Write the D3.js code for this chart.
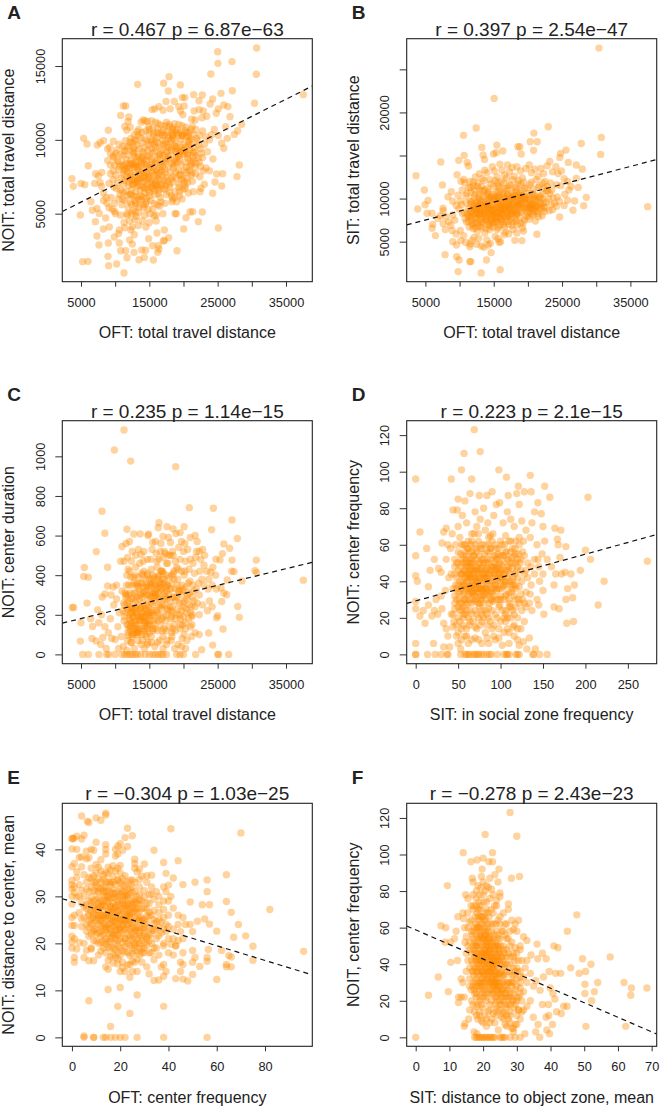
<!DOCTYPE html>
<html><head><meta charset="utf-8">
<script src="https://cdnjs.cloudflare.com/ajax/libs/d3/7.8.5/d3.min.js"></script>
<style>html,body{margin:0;padding:0;background:#fff}svg{display:block}text{font-family:"Liberation Sans",Arial,sans-serif;fill:#222}</style>
</head><body><div id="c"></div>
<script>
const pointsA=[30700,16220,25000,15970,25050,15180,27100,15300,30660,14440,24000,14460,17880,14280,13290,13760,17100,13830,19540,13720,27150,13330,17780,13310,25490,13150,21490,13060,22750,13040,37540,13060,30400,12480,19830,12860,20200,12860,22270,12650,24270,12770,23900,12430,25900,12360,25100,12100,24800,11800,26500,12250,27930,10620,28510,11050,27440,10370,26800,11570,26170,10890,26410,10100,25900,9430,25590,9770,25100,10300,24500,10700,
3680,7370,3880,6850,5000,7050,5540,6960,5390,10100,5880,9720,6070,8250,4900,4910,6460,5810,6660,5230,7340,5360,7680,5020,7100,4460,8610,4710,8270,3960,9150,4100,7340,3490,7630,2880,9000,3010,9880,3420,10500,3650,10610,3900,5240,1750,6020,1770,9050,1480,8950,2110,10220,1590,11290,980,11730,2020,10800,2490,11540,2490,12760,2380,13490,1880,14270,2040,15590,1860,13880,2540,14460,2520,16220,2380,19050,2490,15490,2830,16320,2830,16400,2600,12510,2940,12120,3220,12800,3580,10610,3010,14900,3300,16120,3690,17200,3890,17200,3190,17050,3150,17830,3370,20020,3960,25100,4030,22170,4460,22760,5110,20950,5110,21340,5130,18760,5000,18950,5000,20370,4730,
28170,8300,27830,7510,25730,7710,24850,7690,25590,6870,24610,7150,24270,6380,23050,7000,22560,6720,22420,6490,21440,6490,7400,9650,7800,9800,8300,9950,8900,9400,9200,9500,9000,10650,9750,9900,7150,7700,7550,7550,8050,7800,7000,7050,7800,7100,8000,6850,8300,6400,8700,6100,8300,5900,8800,5700,9100,5400,9600,5300,9900,5150,10050,5000,
11200,12300,11550,12300,10800,11650,12000,11550,11900,11250,15400,12050,15800,12100,16400,12250,17000,12000,17450,12600,18050,12100,18650,12600,19300,12250,19550,11950,19900,11700,20100,12300,21550,11950,22300,12050,22900,11950,23400,11600,22700,11500,21700,11350,21200,11400,
11400,10900,11700,10650,12200,10850,12800,10350,13200,10550,13800,11200,14100,11350,14350,11300,14700,11250,15000,10700,15600,10450,16200,10750,16700,11000,17300,10950,17900,11050,18400,10800,18800,10650,19300,11050,19800,10950,20300,10850,20800,10500,21300,10900,21800,10700,22400,10300,22800,10600,23300,10200,23800,10000,24100,10350,
9300,9050,9700,8900,10200,9300,10600,9700,11100,9550,11500,9950,12100,9600,12500,9800,13000,9900,13500,9400,14000,9800,14400,10050,14900,9650,15300,10000,15700,9700,16100,10150,16500,9500,16900,10300,17300,9800,17700,10300,18100,9900,18500,10300,18900,9800,19200,10300,19600,10000,20000,9700,20400,10200,20700,9600,21100,10050,21500,9500,22000,9900,22500,9400,23100,9700,23500,9200,
8900,8600,9300,8300,9800,8800,10300,8600,10700,8200,11100,8900,11500,8400,11900,9000,12300,8600,12700,9100,13000,8300,13400,8900,13800,8500,14200,9100,14600,8300,15000,8900,15400,8500,15800,9200,16200,8700,16600,9000,17000,8500,17400,9200,17800,8700,18200,9300,18600,8600,19000,9100,19400,8700,19800,9300,20200,8500,20600,9000,21000,8600,21400,8800,21800,8400,22300,8500,22800,8800,23300,8100,23800,7900,24300,8700,
9700,7900,10100,7600,10500,8000,10900,7400,11300,7900,11700,7500,12100,8100,12400,7300,12800,7800,13100,8200,13500,7400,13900,7900,14300,7200,14600,7800,15000,8100,15300,7300,15700,7900,16100,7400,16500,8100,16900,7600,17300,8000,17700,7200,18100,7800,18500,8100,18900,7400,19300,7900,19700,7300,20100,7900,20500,7400,20900,7900,21300,7200,21800,7700,22400,7500,22900,7900,
9100,7050,9800,6800,10400,7100,10800,6600,11200,7000,11600,6500,12000,6900,12300,6300,12600,7000,13000,6500,13300,6900,13700,6200,14000,6800,14300,6400,14700,7000,15000,6200,15400,6700,15800,6300,16200,6900,16600,6100,17000,6700,17500,6300,18000,6800,18400,6000,18800,6500,19300,6800,19800,6000,20200,6900,20700,6400,
9400,6100,9900,5700,10500,6000,11000,5600,11400,5900,11900,5400,12200,5800,12600,5200,13000,5700,13400,5100,13800,5900,14200,5400,14600,5800,15100,5000,15500,5300,16000,4900,16500,5500,17000,5000,18300,5800,19000,5800,
10800,4900,11300,4400,11700,5000,12100,4500,12500,4100,12900,4600,13400,4200,14000,4500,14500,4100,15000,4400,11400,4050,12300,3900,16000,4500,
12600,7000,13200,7100,13600,6900,14100,7200,14500,6800,13100,8500,13500,8200,14000,8800,14500,8600,15200,8300,17800,9500,18200,10000,18700,9600,19100,9400,19600,9500,20100,9000,16900,8200,17400,8700,16000,7000,16400,6600,12900,5900,12200,6300,13500,6000,14300,6700,15000,7500,15500,7000,12800,9300,17200,10300,18400,10300,20500,10500];
const coreA=[12100,8250,14800,9300,17650,10550,12450,6650,19250,8900,15150,7150,13250,9650,18150,7350,16250,9800,11350,7250,20350,9500,14050,6150,17050,8950,12850,8850,15650,10300,19550,7650,13550,7650,21150,8350,16750,6950,11650,8650,18350,10700,14350,9500,20750,9850,12250,7550,15950,8550,17950,6450,13150,6150,19050,10450,16450,7750,11850,6250,21450,9150,14650,8150,18650,8250,12650,9450,15250,9850,20150,7150,13750,10150,16850,9350,11550,9250,17450,7450,14250,7450,19750,10250,12950,7150,15750,6550,18850,9250,21750,8950,13350,8050,16150,10500,11150,6450,20450,8150,14950,10450,17250,6650,12350,5650,15450,9100,19450,6500,13950,9200,18050,8950,16650,8350,12150,9850,20950,9300,14450,5650,17550,9650,11750,7850,15850,7650,19150,8450,13650,6600,21250,7750,16350,6350,12750,8150,18450,7150,14750,9950,17150,7250,20650,8750,13050,5550,15550,8150,19950,9100,11950,7150,16950,9950,14150,8650,18250,6200,12550,9200,21050,9700,15050,6450,17750,8850,13450,10700,19350,7000,16050,7950,11450,8000,20250,6700,14850,7650,18550,10100,12450,8350,15350,9400,17350,7750,13850,8300,19650,8300,16550,10400,12050,7400,20850,10000,14550,6050,18950,8750,13250,7400,15900,9500,17600,9200,11250,8250,21350,8500,14150,7800,16250,6750,19850,10400,12700,6200];
const fillA=[17900,10900,18300,10450,18700,11100,19100,10700,19500,10500,19900,10300,20300,10600,20700,10250,21100,10700,21500,10350,21900,10100,22200,9650,22600,9100,17100,10700,17500,11200,16800,10500,16300,11100,15900,11200,15500,10800,21650,9200,22100,8750,22500,8200,21700,8150,21100,7600,20600,7100,19900,6650,19400,6200,18700,6100,17300,5700,16700,5800,16200,5600,15700,5700,15200,5900,14800,5300,14100,5600,13500,5450,12900,5100,12400,5000,11800,4900,13100,4800,14300,4900,15700,4850,11100,6000,10700,6300,10200,6700,9700,7300,9300,7700,9900,8300,10500,8500,11000,8300,10100,9100,10800,9000,11300,9300,11800,9500,12300,10100,12900,10000,13400,10300,13900,10500,14500,10600,14900,10900,15300,11300,15900,9900,16500,9050,17100,9700,17800,10100,18200,9450,18900,9550,19500,9200,20100,9300,20700,9100,16400,8900,15900,8400,15300,8700,14700,8900,14200,8400,13700,8700,13200,8800,12700,8400,12200,8400,11700,8100,11200,7700,13400,7800,13900,7400,14400,7600,14900,7400,15400,7800,15900,7200,16400,7300,16900,7100,17400,6900,17900,7000,18400,7500,18900,7800,19400,7600,19900,7400,20400,7800,20900,8200,12300,7700,12800,7300,13300,7300,14800,6600,15300,6800,15800,6900,16300,7600,16800,7900,17300,8500,17800,8200,18300,8400,18800,8500,19300,8900];
const pointsB=[30400,27470,15060,21630,12430,18190,22980,18340,10570,17340,20880,17600,30750,17100,27810,16400,20340,16600,21370,16600,13260,15940,15450,16210,18530,16020,18820,16020,16330,15520,14970,15170,15360,15330,10670,15020,13450,15050,13650,14550,30650,15130,25570,15630,24780,15250,24680,14780,20830,15600,19020,15170,7250,14240,9880,14440,11110,14200,11300,13780,3630,12660,7490,11570,4850,10990,5390,9790,4950,9290,3880,8790,9640,12770,10620,12230,10720,11850,5240,8290,5980,8290,7590,8870,7590,8600,37530,9060,28550,10140,28160,9180,26840,9720,26600,8640,24640,7860,27370,11300,27080,12350,27960,13430,27080,13900,25910,14200,6470,5700,5980,6550,6070,7010,21320,5850,19360,6240,19220,6590,18090,5150,19120,5120,15990,5000,15800,4920,9010,5000,9540,4610,10180,5120,7880,3490,9590,3260,9930,2870,11500,2680,11650,2700,13940,2870,14620,3720,9790,1520,13160,1370,15940,1750,11550,4730,11500,4400,13550,4340,14190,4610,
8000,7900,8400,7300,8700,6900,9000,8100,9300,7500,7600,7100,7900,6400,6800,7700,7200,8000,8300,10200,8800,10800,9000,9700,9500,9200,9800,10400,10100,9700,8900,6300,9500,5900,10100,6300,10600,5700,10900,4900,11800,5100,12100,5500,12500,4700,12800,5400,13200,4500,14000,5200,14500,4800,15200,5600,15600,5300,16500,5800,17200,5900,17800,6400,18400,6000,
10400,11000,10900,10300,11300,11300,11700,10700,12000,11900,12300,12500,12600,11400,12900,12900,13300,12300,13700,13300,14000,13000,14400,12200,14800,13700,15100,13200,15500,12500,15900,14000,16200,13300,16600,12700,17000,13900,17300,13100,17700,13600,18000,12600,18400,13700,18900,13200,19200,12400,19700,13500,20200,13900,20500,13000,21000,13400,21500,12600,21900,13500,22300,12900,22800,13800,23200,14300,23600,13100,24100,13700,24400,12900,24900,13200,25300,12300,25800,12000,26300,11400,26000,11000,25400,10500,25800,9800,25300,9200,24800,11500,24300,10200,23900,9500,23500,11000,23100,8600,23600,8700,22400,8500,
10300,9300,10700,8400,11000,9500,11300,8000,11600,9700,11900,8600,12100,10100,12400,7800,12700,9000,12900,10500,13200,8300,13500,9600,13700,11000,14000,7700,14200,8800,14500,10200,14700,9300,15000,11400,15200,8200,15500,9700,15700,10800,16000,7600,16200,9000,16500,11200,16700,10000,17000,8300,17200,9300,17500,11500,17700,10600,18000,8700,18200,9800,18500,11700,18700,10400,19000,8400,19200,9500,19500,11200,19700,10100,20000,8800,20200,9300,20500,11900,20700,10600,21000,8500,21200,9700,21500,11300,21800,10300,22000,8800,22300,9500,22500,12000,22700,10900,23000,10000,23400,9300,
11000,7300,11400,6700,11700,7500,12000,6500,12300,7200,12600,6200,12900,7600,13100,6800,13400,7300,13700,6000,13900,8000,14200,7000,14400,6400,14700,7700,14900,6700,15200,8400,15400,7300,15700,6600,15900,8500,16200,7600,16400,7000,16700,6100,16900,7800,17200,7000,17500,8100,17800,7300,18100,7700,18400,6900,18800,7800,19300,7200,19700,8000,20200,7600,20600,8200,21100,7400,21600,7900,22100,8000,
10200,12000,11500,12000,12200,11000,12500,9500,13000,9900,13400,10900,13800,9200,14100,9700,14500,9000,14800,10500,15100,9900,15400,8900,15600,10200,15900,11200,16100,9500,16400,10600,16700,8900,17100,10400,17400,9000,17700,9900,18100,10800,18400,9100,18600,10100,18900,9400,19400,10300,19800,9000,20100,9800,20400,9100,20900,9900,21300,9200,21700,8900,22100,10500,22400,11200,22900,10900,23300,11800,24200,11600,
13000,8200,13300,7600,13600,8600,13900,8900,14300,8400,14600,7500,15000,8700,15300,7900,15600,8300,16000,8800,16300,8200,16600,8700,16900,9600,12600,8400,12300,8800,11800,7900,19000,9700,18300,8500,17600,8500,20300,8400];
const coreB=[12150,9250,14850,8050,17350,9650,12550,7150,19150,8650,15350,10650,13250,8950,18250,9050,16150,8450,11350,8850,20350,9450,14050,7350,17050,10450,12850,8050,15650,9250,19550,9850,13550,10250,21150,9050,16750,7350,11650,9350,18350,8150,14350,9950,20750,8850,12250,10450,15950,7850,17950,8450,13150,7250,19050,10350,16450,9150,11850,7150,21450,8250,14650,8650,18650,9250,12650,9650,15250,7650,20150,10250,13750,8350,16850,10950,11550,8350,17450,8250,14250,9050,19750,9450,12950,8750,15750,9850,18850,10650,21750,9550,13350,9150,16150,7350,11150,8150,20450,8750,14950,9250,17250,8750,12350,7650,15450,8450,19450,8850,13950,10350,18050,10350,16650,9450,12150,8250,20950,10250,14450,7250,17550,9150,11750,9650,15850,10450,19150,9950,13650,7950,21250,9950,16350,8750,12750,10150,18450,9650,14750,8450,17150,7950,20650,9250,13050,9350,15550,10050,19950,8350,11950,8950,16950,9050,14150,10550,18250,8250,12550,8950,21050,8950,15050,7950,17750,10050,13450,8250,19350,9050,16050,8250,11450,7850,20250,8950,14850,10050,18550,9350,12450,8650,15350,7250,17350,8850,13850,9450];
const fillB=[14100,11200,14600,11700,15200,12100,15600,11400,16100,12000,16500,11800,16900,12400,17300,11600,17800,12200,18200,11300,18600,12100,19000,11600,19400,11900,19900,11200,20300,11600,20800,11100,21200,12200,21700,11500,22200,11800,22800,11400,23200,10600,23700,10100,24200,9100,24600,9700,13200,11400,13600,12100,12700,11800,12100,11500,11600,11300,11100,10600,13000,11000,14200,10800,15600,11800,16300,10400,17100,11200,18300,11000,19100,10900,20000,10600,21000,10400,22100,10000,22700,9600,21900,9300,21400,8600,22500,8900,20800,8100,20000,7900,19500,7500,18900,7100,18300,7400,17700,6900,17100,7400,16600,6700,15900,6900,15500,6400,14900,7100,14400,6800,13900,6500,13300,6600,12800,6800,12300,6600,11900,6900,11300,7300,10800,7700,10400,8300,9900,8800,14200,8200,14700,8700,15300,9000,15800,9000,16300,9700,16800,8700,17200,9900,17800,9300,18200,10200,18800,9000,19300,10000,12600,9200,13100,9700,13600,8800,14100,9300,14600,9800,15100,10200,16000,9300,16600,10100,17400,10200,18000,9500,13800,7500,14500,8100,15000,7300,15700,7800,16500,8000,17000,8000,17600,7700,18500,8300,12400,8200,12900,8300,11700,8500,20200,9900,20800,9400,21700,10100,22300,9100];
const pointsC=[11290,1133,9880,1032,12270,976,18850,948,20850,741,24370,738,8070,723,27100,679,11730,632,16410,665,17590,645,24120,629,18490,634,20100,645,12730,608,13660,608,14880,608,8490,612,27880,585,7240,519,8900,440,5490,439,5390,393,6070,390,30660,476,27100,476,26750,536,25900,558,25700,509,24750,481,25340,477,30460,423,30700,413,37540,375,28560,371,27050,420,27390,418,26400,376,5880,259,3730,237,3930,237,5000,160,4900,67,5240,0,6070,0,7630,0,8760,0,9050,0,9980,0,27930,242,28170,187,25780,128,25000,195,24850,185,23680,108,24270,47,22660,24,21780,0,25000,0,25150,0,26610,0,25590,267,26320,301,25900,310,6410,180,7440,225,6700,141,6600,80,7200,68,7900,50,8200,85,8700,30,7600,160,8100,290,8500,305,8000,200,8500,140,8900,345,9400,300,9700,340,10200,350,9800,250,9300,180,9000,110,9500,80,10000,75,10500,30,11000,545,11600,560,12100,570,10800,470,11300,470,11700,400,12100,420,12500,520,13000,440,13400,530,13800,505,14200,520,14800,600,15200,480,15500,565,15900,570,16300,640,16700,560,17000,595,17400,510,17800,590,18100,565,18900,610,19500,615,19700,570,20200,560,20600,530,21000,590,21700,600,22000,570,22300,520,22800,530,23100,500,22500,480,21800,490,21000,480,20300,470,19500,480,18800,470,18100,500,17500,460,17000,490,16400,480,23400,420,24000,415,24700,400,24300,440,23700,380,23000,350,23600,330,24200,350,24800,330,25500,335,23800,270,24200,240,23500,220,22800,250,22300,200,21700,240,21200,190,21700,110,21200,90,20500,70,19800,80,22300,100,
10200,280,10600,210,11000,320,11400,250,11700,150,12000,350,12300,120,12600,280,12900,400,13200,200,13500,330,13800,130,14100,260,14400,380,14700,170,15000,300,15300,430,15600,220,15900,350,16200,120,16500,280,16800,420,17100,190,17400,340,17700,460,18000,240,18300,110,18600,380,18900,270,19200,430,19500,150,19800,320,20100,400,20400,230,20700,360,21000,140,21300,290,21600,410,21900,330,22300,300,22700,380,
10400,140,10900,90,11300,170,11600,300,11900,430,12200,210,12500,90,12800,160,13100,350,13400,110,13700,230,14000,400,14300,170,14600,90,14900,240,15200,360,15500,130,15800,270,16100,470,16400,200,16700,330,17000,90,17300,250,17600,400,17900,140,18200,330,18500,210,18800,120,19100,350,19400,260,19700,420,20000,190,20300,130,20600,300,20900,250,21300,200,
11800,230,12100,180,12400,230,12700,190,13000,130,13300,250,13600,170,13900,200,14200,310,14500,230,14800,150,15100,190,15400,250,15700,170,16000,220,16300,310,16600,360,16900,250,17200,360,17500,200,17800,300,18100,180,18400,290,
11200,40,11700,20,12300,60,12800,30,13300,70,13800,50,14300,30,14800,60,15300,90,15800,40,16500,70,17000,30,17500,50,18200,70,18700,30,19200,50,19700,40,20300,30,
11000,0,11400,0,11800,0,12200,0,12500,0,12900,0,13200,0,13700,0,14400,0,15000,0,15500,0,15900,0,16300,0,16700,0,17000,0,17500,0,19000,0,19500,0,20000,0,
13400,340,14000,360,14700,400,15200,350,15900,300,16400,400,16900,320,15500,310,14600,300,13000,270,12500,350,15000,210,14300,120,13900,100,14100,190,14500,140,12400,160,12900,110,13200,150,16900,420,18500,500,19000,440,19700,300];
const coreC=[12450,240,14750,130,17350,290,12150,310,19150,230,15350,380,13250,110,18250,360,16150,210,11350,190,20350,340,14050,310,17050,410,12850,220,15650,150,19550,180,13550,280,21150,240,16750,350,11650,350,18350,240,14350,230,20750,180,12250,140,15950,290,17950,390,13150,290,19050,290,16450,340,11850,110,21450,320,14650,350,18650,150,12650,390,15250,260,20150,270,13750,360,16850,180,11550,290,17450,120,14250,160,19750,350,12950,170,15750,390,18850,330,13350,190,16150,440,11150,220,20450,210,14950,200,17250,310,12350,280,15450,120,19450,200,13950,290,18050,270,16650,150,12150,200,20950,370,14450,250,17550,280,11750,260,15850,310,19150,380,13650,230,21250,150,16350,170,12750,310,18450,130,14750,410,17150,130,13050,230,15550,360,19950,330,11950,150,16950,380,14150,340,18250,190,12550,190,20050,240,15050,150,17750,220,13450,130,19350,320,16050,180,11450,310,20250,160,14850,280,18550,410,12450,100,15350,210,17350,170,13850,170,19650,220,16550,240,12050,270,20850,310,14550,200,18950,200,13250,360,15900,130,17600,350,11250,260,21350,350,14150,130,16250,380,19850,150,12700,230,15200,320,14600,340,13700,300,16400,290,18000,330,15600,290];
const fillC=[12200,170,12900,145,13500,175,14000,210,14300,190,14700,220,15100,170,15400,200,13100,210,13700,190,12500,210,12100,240,11600,210,13300,120,12700,100,11900,95,14400,100,15000,110,15700,350,16200,390,16700,420,17200,380,17700,350,18300,400,14900,340,15500,400,14400,320,13900,410,13400,390,12800,360,12300,390,11900,300,16100,330,16500,360,15800,320,17100,280,17600,230,18200,220,18700,290,19300,320,19900,260,20500,280,21000,210,21500,270,22000,260,20200,420,20800,430,21400,460,21900,520,22400,420,23000,450,22200,360,20000,520,19300,540,18400,520,17800,500,17200,520,16600,520,16000,510,15400,530,14700,480,14100,470,13600,460,13000,500,12400,470,11800,490,18900,180,19500,130,20100,100,18300,90,17600,70,16900,120,16200,60,15300,60,14700,50,14000,70,13300,100,12600,130,11800,70,14500,160,13800,240,13000,310,15200,290,16800,230,17500,320,18600,420,16300,250,15000,380,14200,420,12000,130,12400,60];
const pointsD=[69,123,57,110,76,111,54,101,98,101,42,96,66,96,0,96,107,97,135,98,152,92,121,92,158,86,203,86,50,85,58,84,64,88,75,87,84,87,90,89,109,87,119,88,128,89,136,89,44,79,49,79,55,76,5,67,36,69,33,67,43,66,0,54,13,58,31,61,22,52,17,46,0,43,2,40,15,37,0,29,0,25,5,21,11,17,9,24,15,27,0,6,21,6,0,0,0,0,14,0,23,0,30,0,37,0,33,4,273,51,222,40,215,27,206,52,200,57,194,46,187,38,183,44,179,36,177,30,185,31,186,18,178,17,169,25,163,26,163,38,171,68,164,69,167,63,168,60,177,59,170,53,151,22,134,9,155,0,146,0,141,3,
27,47,30,45,36,52,38,60,41,58,47,60,46,52,39,42,35,35,30,32,24,30,22,24,26,22,19,21,31,25,33,17,36,14,38,10,42,22,44,15,46,28,48,10,50,6,53,3,40,4,45,18,
50,70,52,64,56,60,60,72,62,62,66,66,70,78,72,70,76,74,80,80,85,72,88,65,92,76,95,82,99,83,103,72,108,78,112,74,116,70,122,82,125,73,130,68,137,72,140,78,144,83,148,77,150,70,152,62,149,55,145,48,143,60,135,64,127,62,
122,60,118,55,112,62,106,65,100,62,95,58,91,66,86,60,82,68,78,60,74,62,69,66,65,60,60,54,55,50,50,56,46,48,42,44,48,36,53,44,58,46,63,52,67,56,71,48,75,54,79,44,83,50,87,56,91,48,95,52,99,44,103,50,107,56,111,44,115,50,120,52,124,46,128,54,132,42,136,38,140,44,146,40,150,44,155,52,160,48,165,44,172,44,176,45,150,35,143,30,145,27,135,33,128,28,137,24,128,18,124,14,
122,37,118,30,114,40,110,34,106,24,102,42,98,30,94,38,90,34,86,25,82,40,78,32,74,44,70,36,66,28,62,40,58,34,54,28,50,38,46,32,52,24,56,20,60,14,64,24,68,30,72,22,76,32,80,28,84,22,88,30,92,36,96,40,100,32,104,38,108,20,112,26,116,22,120,20,
46,25,50,20,54,14,57,22,60,10,63,16,66,8,70,15,74,8,78,18,82,12,86,6,90,14,94,8,98,9,102,5,106,18,110,6,115,15,122,5,127,7,131,3,
38,0,53,0,58,0,60,0,62,0,64,0,68,0,70,0,72,0,74,0,77,0,80,0,84,0,87,0,89,0,96,0,104,0,107,0,108,0,110,0,118,0,120,0,122,0,138,0,139,0,
55,40,60,36,64,44,68,38,72,46,76,40,80,36,84,42,88,46,92,44,96,36,100,46,68,50,72,52,76,50,64,34,60,30,56,38,52,34,84,34,80,32,88,40,78,24,74,28,70,32,66,40,62,48,58,56,72,30,75,36];
const coreD=[48,42,51,30,53,55,55,37,57,46,59,27,61,58,63,37,65,48,67,33,69,44,71,58,73,39,75,26,77,47,79,35,81,55,83,30,85,46,87,38,89,58,91,29,93,44,95,35,97,55,99,27,101,49,103,37,105,60,107,33,109,46,111,28,113,53,115,38,117,58,119,46,121,30,123,50,125,40,53,48,57,30,61,42,65,36,69,54,73,47,77,30,81,42,85,52,89,36,93,50,97,42,101,36,105,44,109,52,113,34,117,44,121,55,58,38,62,33,66,46,70,42,74,34,78,52,82,46,86,33,90,42,94,54,98,47,102,54,106,40,110,30,114,47,118,36,50,46,54,36,56,26,60,44,64,30,68,42,72,40,76,46,80,50,84,38,88,52,92,32,96,48,100,40,104,30,108,42,112,50,116,32,120,42,124,33,48,30,52,40,58,50,62,28,66,52,70,29,74,50,78,38,82,33,86,44,90,30,94,47,98,36,102,46,106,32,110,48,114,36,118,50,55,44,59,52,63,43,67,38,71,34,75,42,79,48,83,42,87,28,91,40,95,30,99,50,103,44,107,38,111,40,115,42,56,33,60,40,64,50,68,34,72,36,76,28,80,42,84,47,88,34,92,48,96,44,100,30,104,40,108,48,52,28,58,42,62,36,66,34,70,46,74,40,78,44,82,36,86,50,65,42,71,42,77,36,83,36,89,48,95,46,48,50,54,52,60,48,68,46];
const fillD=[50,26,54,24,58,22,62,20,66,22,70,24,74,20,78,22,82,24,86,20,90,24,94,22,98,26,102,24,106,22,110,26,114,24,118,26,122,28,126,30,130,34,130,46,126,56,122,64,118,62,114,58,110,62,106,56,102,60,98,58,94,60,90,62,86,64,82,60,78,58,74,66,70,60,66,62,62,58,58,60,54,60,50,50,47,38,46,44,44,36,50,34,56,54,60,50,64,56,68,54,72,56,76,58,80,52,84,56,88,58,92,54,96,52,100,54,104,54,108,52,112,56,116,54,120,48,124,52,128,44,132,50,136,48,140,52,144,52,52,18,56,16,60,24,64,18,68,18,72,14,76,16,80,20,84,16,88,18,92,16,96,20,100,18,104,20,108,14,112,20,116,16,120,14,48,16,44,22,50,12,54,8,58,10,62,6,70,9,78,6,84,9,92,10,98,14,104,12,110,12,116,10,120,8,125,24,130,26,134,28,118,38,112,38,106,46,100,42,94,38,88,44,82,44,76,36,70,38,64,46,58,30,54,44,62,44,66,50];
const pointsE=[4,47.1,6.4,46,7,45.7,10,46.7,12,46.2,14,47.7,14,47.3,23,44.5,25,42.9,41,44.4,70,43.5,34,39.8,38,37.2,44,37.6,30,36.9,64,34.6,56,33.5,56,31,51,33,46,32.5,42,33.9,39,34.9,82,27.2,64,28.9,66,26.6,49,28.8,54,28.2,57,28.2,69,24,60,22.6,55,25.2,57,24.1,52,24.7,67,21.3,72,21.6,75,19.4,96,18.3,75,16.4,65,17.4,66,17.1,64,15.5,64,15,66,15,62,18.5,56.5,18.7,56,17,56,16.2,53,15.1,50,13.4,60,12.3,48,12,46,12.4,43,12.5,34,12.1,36,12.2,38,13,32,13.5,15,10.2,20,10.6,27,9,7,7.8,19,6.6,38,6.6,24,5.1,16,2.3,5,.3,5,0,9,0,9,0,13,0,14,0,16,0,18,0,20,0,22,0,27,0,38,0,56,0,
0,42.3,0.3,42.3,0.8,42.3,2,42.8,4,42.2,5,43,10,41.5,14,41,14,40,14,39,0,40.1,2,40,6,39.6,8,40,9,39.8,18,40,19,40.7,20,41.2,21,39.8,22,42.5,23,40.6,18,38.6,19,39,6,38,7,38.2,3,38.3,4,38.4,1,37,0,36.3,2,35.3,2,34,0,33.4,0,32.5,0,31.6,1,30.8,1,32,3,32.5,4,31.3,0,30,2,29.8,3,30,0,28.4,0,25.5,1,26,3,26.5,0,23.8,1,23.8,4,23.6,0,21.5,1,21,0,20.3,0,19,2,18.8,3,20.2,5,20,1,17,1,16,5,17,7,16.3,9,16.3,6,18.5,8,18.8,
26,37.9,26,37,26,36,28,35.8,27,35.2,25,33.5,29,34.3,31,34.4,33,34.5,12,37.8,11,36.2,10,35,15,36.2,17,36.5,19,36,20,35,23,33,25,32,28,32,31,33,33,32,35,31,38,32,39,31,40,32.4,41,30,40,29,38,29,36,30,33,30.5,8,36,7,34,5,34.6,4,36.3,
5,30,6,31.5,7,29,8,32,9,27.5,10,31,11,28.5,12,33,13,29,14,32,15,27,16,31,17,28.5,18,32.5,19,29,20,33,21,27.5,22,31,23,28.5,24,30.5,26,27.5,27,30,28,26.8,29,29,30,27.5,32,28.5,34,27,36,26.5,38,25.5,40,26,42,27.5,44,26,46,25.5,
5,25.5,6,24,7,26.5,8,22,9,25.5,10,23,11,27,12,22.5,13,25.5,14,21,15,24,16,26.5,17,22,18,24.5,19,27,20,23,21,25,22,21,23,24,24,26.5,25,22,26,24.5,27,21,28,23.5,29,25,30,22,31,24.5,32,20.5,33,23,34,25,35,21,36,23.5,37,24.5,38,20,39,22.5,40,21,42,23,43,19.5,44,24,45,22.5,46,21,47,24,49,24,50,22.5,
7,21.5,8,19,10,20.5,11,17.5,12,21.5,13,19,14,15,14,18,15,22,15,14.5,16,19,17,21.5,18,17,19,16.7,19,19.5,20,14,20,21,21,16,21,18.5,22,14,22,21,23,18,24,12.8,24,15.5,24,19.5,25,14,25,21,26,16,26,18.5,27,14,27,20,28,17.5,29,16,29,21.5,30,19,31,15,32,18,33,20,34,16.5,35,19,36,17.5,37,15,38,15.5,38,19.5,39,14,40,18,42,17.5,43,19.5,45,14,45,16,46,15.5,46,18,50,18.5,51,17,50,16,
12,26,13,27,14,30,15,30,16,28,17,25,18,26,19,24,20,27,21,29,22,26,23,27,12,29,11,24,9,29,8,27,16,23,18,22,20,25,22,28,24,23,26,20,28,20,30,18,25,29,27,25,17,33,13,32,15,33,16,33,19,31,21,31,9,33,10,33,7,31,11,31,23,22,25,19,13,23,14,24,16,21,18,20,30,25,17,19,19,18];
const coreE=[9,24.4,11,29.6,13,21.8,15,31.2,17,23.6,19,28.2,21,22.4,23,30.2,25,26.4,27,22.8,29,27.4,31,21.4,10,27.2,12,31.6,14,25.6,16,22.2,18,29.6,20,24.8,22,32.4,24,21.6,26,29.4,28,24.8,30,29.8,32,23.2,9,31.2,11,22.2,13,30.4,15,25.4,17,31.4,19,21.8,21,26.2,23,23.2,25,30.8,27,27.4,29,23.2,31,27.2,8,25.2,10,29.4,12,23.6,14,27.8,16,32.6,18,22.8,20,30.4,22,24.6,24,28.4,26,22.6,28,30.4,30,24.2,33,26,13,33.6,15,20.4,17,26.6,19,33.4,21,23.6,23,29.8,25,24.2,27,28.6,29,20.6,9,22.6,11,26,13,28.2,15,23.2,17,29.8,19,25.4,21,32.4,23,25.6,25,27.6,27,23.4,31,28.6,10,24.8,12,28,14,22.8,16,25.2,18,30.6,20,22.2,22,29.4,24,25.4,26,31,28,22.2,8,29.8,10,32.4,12,24.8,14,33.2,16,24.2,18,27.6,20,31.6,22,23,24,31.8,26,28.8,30,20.2,32,25.8,34,22.8,6,27.4,7,23.4,9,20.6,11,20,13,20.4,15,19.2,17,17.6,19,20.6,21,20.2,23,20,25,17.8,27,18.2,29,18.8,31,21,33,18,35,23,11,33.8,13,34.6,15,34.8,17,34.2,19,33.6,21,33.8,23,31.4,9,34.4,14,26,16,29.6,18,23.6,20,28.6,22,25,24,27,26,25.6,28,28.4,12,27.8,14,31,16,26.8,18,28,20,23.4,22,30.2,19,26.8,21,24,23,26.2,17,27.4,15,28.6,13,26,11,25.4,9,26.2,7,24.8,6,28.2,24,24.4,26,23,28,25.4];
const fillE=[12,18.4,14,19.8,16,17.2,18,18.6,20,17.4,22,19.4,24,17.4,26,19.6,28,19,30,22.8,32,21.8,34,19,36,21.6,38,23,40,23.6,42,21,44,20.6,28,29.2,30,31.2,32,30.4,34,29.4,36,28.2,38,27.2,24,33.4,26,33,28,33.6,22,34.4,20,36.6,18,35.4,16,35.6,14,35,12,35.4,10,36.8,8,33.8,6,33,5,27.8,4,28.6,4,25.2,6,22.6,8,24,10,22,12,20.2,14,23.4,16,20.4,18,21,20,19,22,18.2,24,20.6,26,21.4,28,21.6,30,23.4,32,26.6,34,24.2,36,25,15,16.4,17,15.8,19,15.6,21,14.8,23,15.4,25,16.2,27,16.6,29,18,31,19.6,33,22,35,24.6,37,22.2,39,24,41,19.8,9,23,11,31.8,13,24.2,15,26,17,24.6,19,23,21,30,23,24.8,25,23.4,27,26.4,29,25.4,31,25.8,10,26,12,25,14,29,16,27.8,18,25.4,20,26,22,27.4,24,25.8,26,27,8,28.6,7,26,13,31,15,29.6,17,30.6,19,30,21,28.4,23,28,25,28.4,9,28,11,27.8];
const pointsF=[28,123,20.6,111,30,110,14.1,101,22.8,101,20,98,16.4,96,18.2,97,21.7,96,22.8,96,24.7,92,19.7,92,9.4,83,28.4,87,30.8,88,24.4,85,25,79,47.8,67,45,58,57.7,44,49.5,43,52,40,46,38,50.4,36,48.5,35,54,30,61.8,30,50.2,29,64,27,68.6,27,53,25,50.2,24,63.8,23,52.2,20,50.5,6,62.3,6,36.8,0,0,0,3.8,23,6.7,33,9.7,25,7.5,61,8.9,60,10.4,41,12.4,42,12,58,11.5,54,8.7,52,10.3,52,13.5,32,14,30,12.7,22,13.5,22,12.7,19,14.4,22,14.4,6,14.6,7.5,15.7,10,16,15,41,50,42.2,49,36,51,37.6,46,38.7,43,34.2,45,36.2,43,39.6,36,41.5,35,43,35,37.9,33,35.6,31,39.9,27,36.9,25.7,40.7,24,41.3,21,43.9,17,44.9,17,41.8,14,43.2,13,39.4,18,37.6,18,39.5,12,38.7,11,34.9,11,36.3,7,40.6,7,38.9,4,39.7,2,35.6,3,32.4,2,
12.5,66,14,68,14.2,65,14.8,78,15.5,76,16.8,87,17,85,18,80,18.5,83,19.5,88,20,85,21,83,22,87,21.5,82,22.5,81,23.5,89,23,78,24,75,25,77,26,68,27.5,73,27.5,70,26.5,62,28.5,64,29.5,62,30.5,64,29,59,30,58,32,55,33,53,31,50,30,46,29,44,33,42,32.5,38,34,35,33,30,35,28,32,25,33,17,34,20,32,15,30.5,15,31,10,30,7,29,5,28,8,27,6,
14.5,60,15,55,15.5,50,16,63,16.5,58,17,70,17.2,48,17.8,62,18,72,18.5,54,19,78,19.3,66,19.8,46,20.2,74,20.5,60,21,70,21.3,52,21.8,66,22,76,22.5,58,23,68,23.3,48,23.8,62,24,72,24.5,54,25,66,25.5,58,26,50,26.5,56,27,62,27.5,46,28,58,28.5,52,29,38,29.5,49,
15.5,42,16,38,16.5,46,17,36,17.5,44,18,32,18.5,40,19,48,19.5,36,20,52,20.5,40,21,44,21.5,34,22,48,22.5,38,23,44,23.5,36,24,42,24.5,32,25,40,25.5,44,26,34,26.5,40,27,36,27.5,30,28,40,28.5,34,29,30,29.5,36,30,28,31,33,31.5,42,
16,32,16.5,26,17,30,17.5,24,18,28,18.5,18,19,26,19.5,30,20,22,20.5,28,21,32,21.5,24,22,30,22.5,20,23,26,23.5,30,24,22,24.5,26,25,18,25.5,24,26,30,26.5,22,27,26,27.5,18,28,24,28.5,28,29,20,29.5,26,30,22,30.5,15,31,27,31.5,20,
17,18,18,17,19,14,19.5,9,20,16,20.5,12,21,6,22,15,22.5,10,23,13,23.5,8,24,12,24.5,4,25,15,25.5,11,26,13,26.5,7,27,16,27.5,10,28,14,28.5,5,29,3,29.5,7,
17.3,3,18.2,2,17.5,0,18,0,18.5,0,19,0,19.5,0,20,0,20.5,0,21,0,21.5,0,22,0,22.5,0,23,0,23.5,0,25,0,25.5,0,26,0,26.5,0,28,0,29.5,0,31,0,
17.5,52,18,56,18.5,46,19,60,19.5,42,20,66,20.5,50,21,56,21.5,62,22,42,22.5,50,23,54,19,38,18,44,17,54,18.2,68,19.2,72,20.8,64,16,52,15.5,60,19.5,54,20.5,34,21,38,21.5,46,22.5,30,22,36,23,40,24,46,24.5,50,25,35,26,42,20,42,20,30,21,26,19,22,20.8,20,18,24,19,55,18,50,22,52,23,33,24,28,25,28,26,26,27,30,28,44];
const coreF=[17.4,60,18.6,50,19.6,66,20.6,45,21.6,58,22.6,40,23.6,52,24.6,35,25.6,44,26.6,28,17.8,42,18.8,58,19.8,36,20.8,52,21.8,30,22.8,46,23.8,26,24.8,42,25.8,30,18.2,38,19.2,62,20.2,48,21.2,36,22.2,55,23.2,42,24.2,30,25.2,50,26.2,38,17.2,34,18.4,64,19.4,44,20.4,56,21.4,40,22.4,62,23.4,34,24.4,56,25.4,36,27.2,40,17.6,46,18.6,70,19.6,50,20.6,38,21.6,50,22.6,34,23.6,46,24.6,28,16.8,56,17.6,66,18.4,34,19.4,28,20.4,64,21.4,32,22.4,44,23.4,28,24.4,38,25.4,26,16.6,42,17.4,26,18.2,52,19.2,34,20.2,54,21.2,46,22.2,26,23.2,38,24.2,50,26.4,34,16.4,64,17.2,72,18.8,74,19.8,62,20.8,42,21.8,36,22.8,52,23.8,40,24.8,30,27.8,36,17,40,18,36,19,42,20,36,21,50,22,40,23,30,24,34,25,46,27,48,16.2,48,17.2,58,18.2,46,19.2,56,20.2,40,21.2,60,22.2,48,23.2,56,24.2,44,26.2,46,17.8,30,18.8,42,19.8,54,20.8,30,21.8,44,22.8,28,23.8,50,24.8,46,25.8,40,27.4,26,16.8,36,17.8,50,18.8,30,19.8,32,20.8,56,21.8,54,22.8,38,23.8,32,18.4,60,19.4,40,20.4,46,21.4,54,22.4,36,23.4,50,24.4,42,28.5,30,29.4,42,30.2,36,28.2,22,29.2,16,26.8,18,25.6,18,23.6,18,21.6,14,19.6,18,18,12,30.4,42,31,48,27.4,54];
const fillF=[17,78,18,76,19,70,20,78,21,74,18.2,60,19.4,82,20.6,80,21.4,68,22.4,70,23.4,72,24.4,64,25,62,26,58,27,54,24,20,25,24,26,20,27,22,28,18,29,24,30,20,31,24,17,28,18,22,19,20,20,26,21,22,22,18,23,24,24,14,25,20,26,14,27,12,28,30,29,34,30,38,31,36,16,28,15,36,15,46,14.6,52,15.4,68,16.4,72,23,62,24,58,25,54,26,48,27,44,28,50,29,46,30,32,31,30,32,33,18.6,36,19.6,46,20.6,58,21.6,36,22.6,44,23.6,30,24.6,48,25.6,34,17.6,38,18.6,28,19.6,24,20.6,24,21.6,28,22.6,24,23.6,22,24.6,24,25.6,22,26.6,24,27.6,22,28.6,20,29.6,18,30.6,22,19,12,20,8,21,10,22,8,24,16,26,10,28,12,30,12,31.5,14,16.6,20,17.4,14,18.4,10,19.8,44,20.8,48,21.8,48,22.8,40,23.8,36,20.2,34,19.2,30,18.2,42,17.2,50,18.6,66,19.6,58,20.6,68,21.6,42,22.6,32,23.6,42];
const panels=[
 {letter:"A",title:"r = 0.467 p = 6.87e−63",xLabel:"OFT: total travel distance",yLabel:"NOIT: total travel distance",points:[...pointsA,...coreA,...fillA],xDomain:[2263,38850],yDomain:[393,16850],xTicks:[5000,10000,15000,20000,25000,30000,35000],xShown:[5000,15000,25000,35000],yTicks:[5000,10000,15000],yShown:[5000,10000,15000],line:[5150,13645]},
 {letter:"B",title:"r = 0.397 p = 2.54e−47",xLabel:"OFT: total travel distance",yLabel:"SIT: total travel distance",points:[...pointsB,...coreB,...fillB],xDomain:[2263,38850],yDomain:[350,28560],xTicks:[5000,10000,15000,20000,25000,30000,35000],xShown:[5000,15000,25000,35000],yTicks:[5000,10000,15000,20000,25000],yShown:[5000,10000,20000],line:[6940,14530]},
 {letter:"C",title:"r = 0.235 p = 1.14e−15",xLabel:"OFT: total travel distance",yLabel:"NOIT: center duration",points:[...pointsC,...coreC,...fillC],xDomain:[2263,38850],yDomain:[-47,1180],xTicks:[5000,10000,15000,20000,25000,30000,35000],xShown:[5000,15000,25000,35000],yTicks:[0,200,400,600,800,1000],yShown:[0,200,400,600,800,1000],line:[158,465]},
 {letter:"D",title:"r = 0.223 p = 2.1e−15",xLabel:"SIT: in social zone frequency",yLabel:"NOIT: center frequency",points:[...pointsD,...coreD,...fillD],xDomain:[-10.6,284],yDomain:[-5.1,127.9],xTicks:[0,50,100,150,200,250],xShown:[0,50,100,150,200,250],yTicks:[0,20,40,60,80,100,120],yShown:[0,20,40,60,80,100,120],line:[27.9,65.6]},
 {letter:"E",title:"r = −0.304 p = 1.03e−25",xLabel:"OFT: center frequency",yLabel:"NOIT: distance to center, mean",points:[...pointsE,...coreE,...fillE],xDomain:[-4,99.6],yDomain:[-1.9,49.8],xTicks:[0,20,40,60,80],xShown:[0,20,40,60,80],yTicks:[0,10,20,30,40],yShown:[0,10,20,30,40],line:[29.5,13.3]},
 {letter:"F",title:"r = −0.278 p = 2.43e−23",xLabel:"SIT: distance to object zone, mean",yLabel:"NOIT, center frequency",points:[...pointsF,...coreF,...fillF],xDomain:[-2.67,71.5],yDomain:[-4.9,128],xTicks:[0,10,20,30,40,50,60,70],xShown:[0,10,20,30,40,50,60,70],yTicks:[0,20,40,60,80,100,120],yShown:[0,20,40,60,80,100,120],line:[60.9,1.8]}
];
const W=661,H=1110,plotW=250,plotH=243;
const lefts=[62.3,406.7],tops=[38.7,420.7,803.3];
const svg=d3.select("#c").append("svg").attr("width",W).attr("height",H);
panels.forEach((p,i)=>{
  const L=lefts[i%2],T=tops[Math.floor(i/2)];
  const x=d3.scaleLinear().domain(p.xDomain).range([0,plotW]);
  const y=d3.scaleLinear().domain(p.yDomain).range([plotH,0]);
  const g=svg.append("g").attr("transform",`translate(${L},${T})`);
  const clipId="clip"+p.letter;
  g.append("clipPath").attr("id",clipId).append("rect").attr("width",plotW).attr("height",plotH);
  const pts=d3.range(0,p.points.length,2).map(k=>[p.points[k],p.points[k+1]]);
  g.append("g").attr("clip-path",`url(#${clipId})`).selectAll("circle").data(pts).join("circle")
    .attr("cx",d=>x(d[0])).attr("cy",d=>y(d[1])).attr("r",3.7).attr("fill","#ff8c00").attr("fill-opacity",0.38);
  g.append("path").attr("d",d3.line().x(d=>x(d[0])).y(d=>y(d[1]))([[p.xDomain[0],p.line[0]],[p.xDomain[1],p.line[1]]]))
    .attr("clip-path",`url(#${clipId})`).attr("fill","none").attr("stroke","#111").attr("stroke-width",1.2).attr("stroke-dasharray","5,4");
  const ax=g.append("g").attr("transform",`translate(0,${plotH})`)
    .call(d3.axisBottom(x).tickValues(p.xTicks).tickSize(5).tickPadding(11).tickFormat(d=>p.xShown.includes(d)?d:""));
  const ay=g.append("g").call(d3.axisLeft(y).tickValues(p.yTicks).tickSize(7).tickPadding(0).tickFormat(d=>p.yShown.includes(d)?d:""));
  [ax,ay].forEach(a=>{a.select(".domain").remove();a.selectAll("line").attr("stroke","#333");a.selectAll("text").attr("font-size",12.8).attr("font-family",'"Liberation Sans",Arial,sans-serif').attr("fill","#222");});
  ay.selectAll("text").attr("x",null).attr("dy",null).attr("text-anchor","middle").attr("transform",`translate(-17.5,0) rotate(-90)`);
  g.append("rect").attr("width",plotW).attr("height",plotH).attr("fill","none").attr("stroke","#222").attr("stroke-width",1.1);
  g.append("text").attr("x",plotW/2).attr("y",-3).attr("text-anchor","middle").attr("font-size",19).text(p.title);
  g.append("text").attr("x",plotW/2).attr("y",plotH+56.5).attr("text-anchor","middle").attr("font-size",16).text(p.xLabel);
  g.append("text").attr("transform",`translate(-48,${plotH/2}) rotate(-90)`).attr("text-anchor","middle").attr("font-size",16).text(p.yLabel);
  g.append("text").attr("x",-55).attr("y",-19.5).attr("font-size",19).attr("font-weight","bold").attr("fill","#111").text(p.letter);
});
</script></body></html>
